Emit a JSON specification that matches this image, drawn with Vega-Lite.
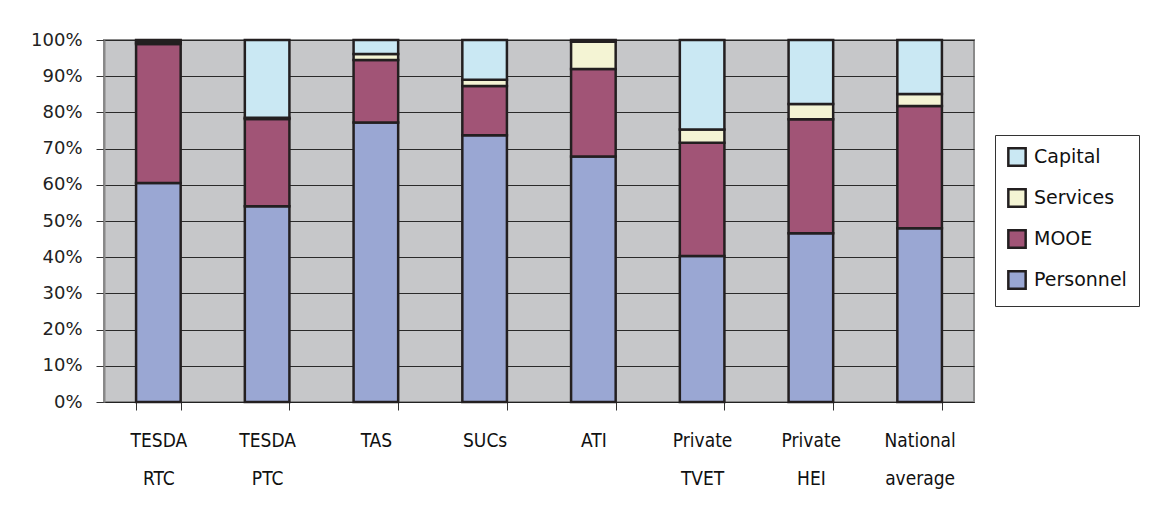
{
  "$schema": "https://vega.github.io/schema/vega-lite/v6.json",
  "width": 870,
  "height": 362,
  "autosize": "none",
  "padding": {"left": 104, "top": 40, "right": 193, "bottom": 119},
  "background": "white",
  "data": {
    "values": [
      {"institution": "TESDA RTC", "category": "Personnel", "rank": 1, "share": 60.5},
      {"institution": "TESDA RTC", "category": "MOOE", "rank": 2, "share": 38.4},
      {"institution": "TESDA RTC", "category": "Services", "rank": 3, "share": 0.5},
      {"institution": "TESDA RTC", "category": "Capital", "rank": 4, "share": 0.6},
      {"institution": "TESDA PTC", "category": "Personnel", "rank": 1, "share": 54.1},
      {"institution": "TESDA PTC", "category": "MOOE", "rank": 2, "share": 24.1},
      {"institution": "TESDA PTC", "category": "Services", "rank": 3, "share": 0.3},
      {"institution": "TESDA PTC", "category": "Capital", "rank": 4, "share": 21.5},
      {"institution": "TAS", "category": "Personnel", "rank": 1, "share": 77.2},
      {"institution": "TAS", "category": "MOOE", "rank": 2, "share": 17.3},
      {"institution": "TAS", "category": "Services", "rank": 3, "share": 1.6},
      {"institution": "TAS", "category": "Capital", "rank": 4, "share": 3.9},
      {"institution": "SUCs", "category": "Personnel", "rank": 1, "share": 73.7},
      {"institution": "SUCs", "category": "MOOE", "rank": 2, "share": 13.6},
      {"institution": "SUCs", "category": "Services", "rank": 3, "share": 1.7},
      {"institution": "SUCs", "category": "Capital", "rank": 4, "share": 11.0},
      {"institution": "ATI", "category": "Personnel", "rank": 1, "share": 67.8},
      {"institution": "ATI", "category": "MOOE", "rank": 2, "share": 24.2},
      {"institution": "ATI", "category": "Services", "rank": 3, "share": 7.5},
      {"institution": "ATI", "category": "Capital", "rank": 4, "share": 0.5},
      {"institution": "Private TVET", "category": "Personnel", "rank": 1, "share": 40.3},
      {"institution": "Private TVET", "category": "MOOE", "rank": 2, "share": 31.3},
      {"institution": "Private TVET", "category": "Services", "rank": 3, "share": 3.7},
      {"institution": "Private TVET", "category": "Capital", "rank": 4, "share": 24.7},
      {"institution": "Private HEI", "category": "Personnel", "rank": 1, "share": 46.6},
      {"institution": "Private HEI", "category": "MOOE", "rank": 2, "share": 31.5},
      {"institution": "Private HEI", "category": "Services", "rank": 3, "share": 4.2},
      {"institution": "Private HEI", "category": "Capital", "rank": 4, "share": 17.7},
      {"institution": "National average", "category": "Personnel", "rank": 1, "share": 48.0},
      {"institution": "National average", "category": "MOOE", "rank": 2, "share": 33.8},
      {"institution": "National average", "category": "Services", "rank": 3, "share": 3.3},
      {"institution": "National average", "category": "Capital", "rank": 4, "share": 14.9}
    ]
  },
  "mark": {"type": "bar", "stroke": "#231F20", "strokeWidth": 2.5, "strokeJoin": "miter"},
  "encoding": {
    "x": {
      "field": "institution",
      "type": "nominal",
      "sort": ["TESDA RTC", "TESDA PTC", "TAS", "SUCs", "ATI", "Private TVET", "Private HEI", "National average"],
      "scale": {"paddingInner": 0.59, "paddingOuter": 0.295},
      "axis": {
        "title": null,
        "labelAngle": 0,
        "labelExpr": "split(datum.label, ' ')",
        "labelFont": "'DejaVu Sans Condensed', 'Liberation Sans', sans-serif",
        "labelFontSize": 19,
        "labelColor": "#111",
        "labelLineHeight": 38,
        "labelPadding": 21,
        "labelBaseline": "top",
        "tickBand": "extent",
        "tickSize": 8,
        "tickColor": "#333",
        "tickWidth": 1,
        "domainColor": "#222",
        "domainWidth": 1,
        "grid": false
      }
    },
    "y": {
      "field": "share",
      "type": "quantitative",
      "stack": "zero",
      "scale": {"domain": [0, 100], "nice": false},
      "axis": {
        "title": null,
        "values": [0, 10, 20, 30, 40, 50, 60, 70, 80, 90, 100],
        "labelExpr": "datum.value + '%'",
        "labelFont": "DejaVu Sans",
        "labelFontSize": 18,
        "labelColor": "#222",
        "labelPadding": 14,
        "tickSize": 8,
        "tickColor": "#333",
        "tickWidth": 1,
        "domainColor": "#888",
        "domainWidth": 2,
        "grid": true,
        "gridColor": "#2a2a2a",
        "gridWidth": 1,
        "gridOpacity": 1
      }
    },
    "color": {
      "field": "category",
      "type": "nominal",
      "scale": {
        "domain": ["Capital", "Services", "MOOE", "Personnel"],
        "range": ["#CAE8F3", "#F4F4D4", "#A15476", "#9AA7D3"]
      },
      "legend": {
        "title": null,
        "orient": "none",
        "legendX": 891,
        "legendY": 95,
        "fillColor": "white",
        "strokeColor": "#333",
        "padding": 12,
        "rowPadding": 13,
        "symbolType": "square",
        "symbolSize": 300,
        "symbolStrokeColor": "#231F20",
        "symbolStrokeWidth": 2.5,
        "symbolOpacity": 1,
        "labelFont": "DejaVu Sans",
        "labelFontSize": 19,
        "labelColor": "#111",
        "labelOffset": 7,
        "labelLimit": 300
      }
    },
    "order": {"field": "rank", "type": "quantitative"}
  },
  "config": {
    "view": {"fill": "#C6C7C9", "stroke": "#8a8a8a", "strokeWidth": 2}
  }
}
